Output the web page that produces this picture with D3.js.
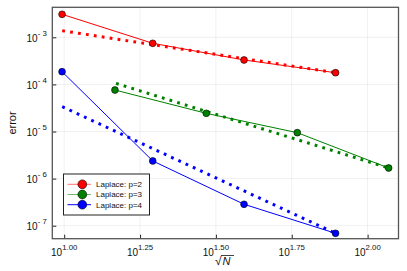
<!DOCTYPE html>
<html><head><meta charset="utf-8">
<script src="https://cdn.jsdelivr.net/npm/d3@7"></script>
<style>body{margin:0;background:#fff}svg{display:block}text{font-family:"Liberation Sans",Arial,sans-serif}</style>
</head><body><svg id="c" width="407" height="271"></svg>
<script>
// data (sqrt(N) vs error)
const seriesNames = ["Laplace: p=2", "Laplace: p=3", "Laplace: p=4"];
const seriesColors = ["#ff0000", "#008000", "#0000ff"];
const xRed = [9.84, 19.58, 39.15, 78.4];
const yRed = [3.08e-3, 7.46e-4, 3.30e-4, 1.77e-4];
const xGreen = [14.7, 29.4, 58.65, 117.3];
const yGreen = [7.6e-5, 2.43e-5, 9.44e-6, 1.68e-6];
const xBlue = [9.84, 19.58, 39.15, 78.4];
const yBlue = [1.86e-4, 2.37e-6, 2.85e-7, 6.9e-8];
// reference (dotted) slope lines: endpoints
const refXRed = [9.85, 78.4], refYRed = [1.38e-3, 1.77e-4];
const refXGreen = [14.82, 117.3], refYGreen = [1.05e-4, 1.68e-6];
const refXBlue = [9.85, 78.4], refYBlue = [3.37e-5, 6.9e-8];
const xTickExp = ["1.00", "1.25", "1.50", "1.75", "2.00"];
const yTickExp = [-7, -6, -5, -4, -3];

const svg = d3.select("#c");
const L = 52.3, R = 398.5, T = 7.3, B = 238.7;
const x = d3.scaleLog().domain([Math.pow(10, 0.9608), Math.pow(10, 2.1018)]).range([L, R]);
const y = d3.scaleLog().domain([Math.pow(10, -7.276), Math.pow(10, -2.363)]).range([B, T]);

const xt = xTickExp.map(e => Math.pow(10, +e));
const yt = yTickExp.map(e => Math.pow(10, e));

// grid
const g = svg.append("g");
g.selectAll(".gx").data(xt).enter().append("line")
  .attr("x1", d => x(d)).attr("x2", d => x(d)).attr("y1", T).attr("y2", B)
  .attr("stroke", "#000").attr("stroke-opacity", 0.1).attr("stroke-width", 0.6);
g.selectAll(".gy").data(yt).enter().append("line")
  .attr("y1", d => y(d)).attr("y2", d => y(d)).attr("x1", L).attr("x2", R)
  .attr("stroke", "#000").attr("stroke-opacity", 0.1).attr("stroke-width", 0.6);

// axes via d3
const xAxis = d3.axisBottom(x).tickValues(xt).tickSize(-4).tickFormat("");
const yAxis = d3.axisLeft(y).tickValues(yt).tickSize(-4).tickFormat("");
const gx = svg.append("g").attr("transform", `translate(0,${B})`).call(xAxis);
const gy = svg.append("g").attr("transform", `translate(${L},0)`).call(yAxis);
[gx, gy].forEach(a => { a.select(".domain").remove(); a.selectAll("line").attr("stroke", "#222").attr("stroke-width", 1); });

// frame
svg.append("rect").attr("x", L).attr("y", T).attr("width", R - L).attr("height", B - T)
  .attr("fill", "none").attr("stroke", "#555").attr("stroke-width", 1.3);

// tick labels
xt.forEach((d, i) => {
  const t = svg.append("text").attr("x", x(d)).attr("y", 255.5).attr("text-anchor", "middle").attr("fill", "#111");
  t.append("tspan").attr("font-size", 10).text("10");
  t.append("tspan").attr("font-size", 7.8).attr("dy", -5.5).text(xTickExp[i]);
});
yt.forEach((d, i) => {
  const t = svg.append("text").attr("x", 46.8).attr("y", y(d) + 4.2).attr("text-anchor", "end").attr("fill", "#111");
  t.append("tspan").attr("font-size", 10).text("10");
  t.append("tspan").attr("font-size", 7.8).attr("dy", -5.5).text("- " + Math.abs(yTickExp[i]));
});

// axis labels
svg.append("text").attr("transform", `translate(16,${(T + B) / 2}) rotate(-90)`)
  .attr("text-anchor", "middle").attr("font-size", 11).attr("fill", "#111").text("error");
const xl = svg.append("g").attr("transform", "translate(223,265)");
xl.append("text").attr("x", -1.5).attr("y", 0).attr("text-anchor", "end").attr("font-size", 12)
  .attr("font-family", "DejaVu Serif").attr("fill", "#111").text("√");
xl.append("line").attr("x1", -2).attr("x2", 11).attr("y1", -9.5).attr("y2", -9.5).attr("stroke", "#111").attr("stroke-width", 0.8);
xl.append("text").attr("x", -0.5).attr("y", 0).attr("font-size", 11).attr("font-style", "italic")
  .attr("font-family", "DejaVu Serif").attr("fill", "#111").text("N");

// series
const series = [
  {xs: xRed, ys: yRed, rx: refXRed, ry: refYRed},
  {xs: xGreen, ys: yGreen, rx: refXGreen, ry: refYGreen},
  {xs: xBlue, ys: yBlue, rx: refXBlue, ry: refYBlue}
];
const line = d3.line().x(d => x(d[0])).y(d => y(d[1]));
series.forEach((s, i) => {
  const c = seriesColors[i];
  const pts = s.xs.map((v, j) => [v, s.ys[j]]);
  const ref = s.rx.map((v, j) => [v, s.ry[j]]);
  svg.append("path").attr("d", line(pts)).attr("fill", "none").attr("stroke", c).attr("stroke-width", 1);
  svg.append("path").attr("d", line(ref)).attr("fill", "none").attr("stroke", c)
    .attr("stroke-width", 3).attr("stroke-dasharray", "2.8 5.2");
  svg.selectAll(null).data(pts).enter().append("circle")
    .attr("cx", d => x(d[0])).attr("cy", d => y(d[1])).attr("r", 3.4)
    .attr("fill", c).attr("stroke", "#000").attr("stroke-width", 0.6);
});

// legend
const lg = svg.append("g");
lg.append("rect").attr("x", 63.5).attr("y", 174).attr("width", 86).attr("height", 41)
  .attr("fill", "#fff").attr("stroke", "#222").attr("stroke-width", 1);
seriesNames.forEach((n, i) => {
  const yy = 184.3 + i * 10.2;
  lg.append("line").attr("x1", 67.5).attr("x2", 91).attr("y1", yy).attr("y2", yy)
    .attr("stroke", seriesColors[i]).attr("stroke-width", 1).attr("stroke-opacity", i === 2 ? 1 : 0.55);
  lg.append("circle").attr("cx", 82.3).attr("cy", yy).attr("r", 4.4)
    .attr("fill", seriesColors[i]).attr("stroke", "#000").attr("stroke-width", 0.6);
  lg.append("text").attr("x", 96).attr("y", yy + 2.9).attr("font-size", 8).attr("fill", "#111").text(n);
});
</script></body></html>
